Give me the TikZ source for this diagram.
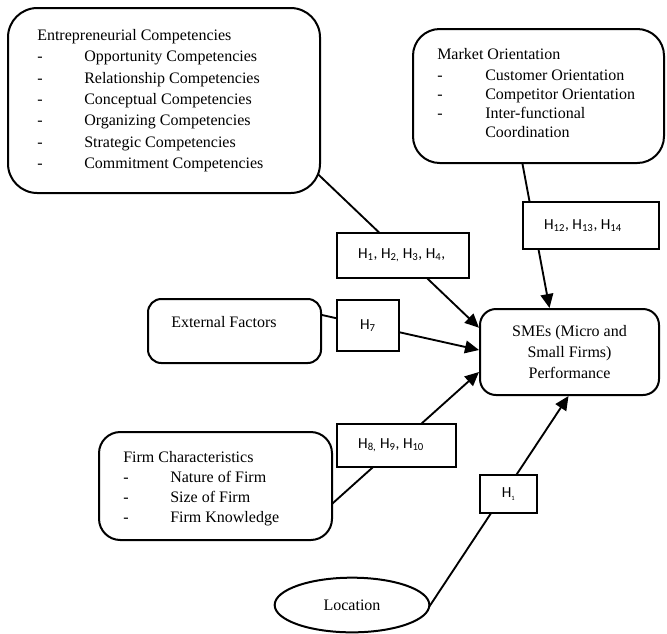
\documentclass[tikz,border=0pt]{standalone}
\usepackage{fontspec}
\setmainfont{Liberation Serif}
\newfontfamily\hfont{Carlito}
\usetikzlibrary{arrows.meta,fit,calc,shapes.geometric,backgrounds}
\newcommand\dashcol[1]{\makebox[#1][l]{-}}
\begin{document}
\begin{tikzpicture}[x=0.75pt,y=-0.75pt,
 box/.style={draw, line width=1.5pt, inner sep=0pt, fill=white},
 hbox/.style={draw, line width=1.5pt, inner sep=0pt, fill=white, font=\hfont\fontsize{11.5}{13}\selectfont},
 txt/.style={inner sep=0pt, align=left, anchor=north west, font=\fontsize{12}{16}\selectfont},
 conn/.style={line width=1.4pt, shorten <=-8pt},
 arr/.style={conn, -{Triangle[length=10.5pt,width=9.5pt]}}]
\useasboundingbox (0,0) rectangle (667,633);

% main boxes
\node[box, rounded corners=22pt, fit={(8,8)(320,193)}] (ec) {};
\node[txt] (ect) at (37,29) {Entrepreneurial Competencies\\
\dashcol{35.25pt}Opportunity Competencies\\
\dashcol{35.25pt}Relationship Competencies\\
\dashcol{35.25pt}Conceptual Competencies\\
\dashcol{35.25pt}Organizing Competencies\\
\dashcol{35.25pt}Strategic Competencies\\
\dashcol{35.25pt}Commitment Competencies};

\node[box, rounded corners=20pt, fit={(413,29)(664,163)}] (mo) {};
\node[txt, font=\fontsize{12}{14.2}\selectfont] (mot) at (437,48) {Market Orientation\\[2pt]
\dashcol{36pt}Customer Orientation\\
\dashcol{36pt}Competitor Orientation\\
\dashcol{36pt}Inter-functional\\
\hspace*{36pt}Coordination};

\node[box, rounded corners=12pt, minimum width=134.25pt, minimum height=64.5pt, align=center, font=\fontsize{12}{15.75}\selectfont] (sme) at (569.5,352) {SMEs (Micro and\\Small Firms)\\Performance};

\node[box, rounded corners=10pt, fit={(148,299)(321,363)}] (ef) {};
\node[txt, anchor=west] (eft) at (171,322) {External Factors};

\node[box, rounded corners=16pt, fit={(99,432)(332,540)}] (fc) {};
\node[txt, font=\fontsize{12}{15}\selectfont] (fct) at (123,451) {Firm Characteristics\\
\dashcol{35.25pt}Nature of Firm\\
\dashcol{35.25pt}Size of Firm\\
\dashcol{35.25pt}Firm Knowledge};

\node[draw, ellipse, line width=1.5pt, inner sep=0pt, minimum width=116pt, minimum height=41pt, fill=white, font=\fontsize{12}{14}\selectfont] (loc) at (352,605) {Location};

% hypothesis boxes
\node[hbox, minimum width=99pt, minimum height=33.75pt] (h14) at (403,255.5) {H\textsubscript{1}, H\textsubscript{2,} H\textsubscript{3}, H\textsubscript{4},\hspace*{2pt}};
\node[hbox, minimum width=46.5pt, minimum height=38.25pt] (h7) at (368,325.5) {\raisebox{2pt}{H\textsubscript{7}}};
\node[hbox, minimum width=102pt, minimum height=35.25pt] (h1214) at (591,225.5) {H\textsubscript{12}, H\textsubscript{13}, H\textsubscript{14}\hspace*{12pt}};
\node[hbox, minimum width=89.25pt, minimum height=32.25pt] (h810) at (396.5,445.5) {H\textsubscript{8,} H\textsubscript{9}, H\textsubscript{10}\hspace*{8pt}};
\node[hbox, minimum width=42.75pt, minimum height=28.5pt] (h1) at (508.5,494) {H\textsubscript{\scalebox{0.6}{1}}};

% connectors
\begin{scope}[on background layer]
\draw[arr] (ec.-26) -- (sme.165);
\draw[arr] ($(mo.south)+(-16,0)$) -- ($(sme.north)+(-20,0)$);
\draw[arr] ($(ef.east)+(0,-16)$) -- ($(sme.west)+(0,-2)$);
\draw[arr] ($(fc.east)+(0,17)$) -- ($(sme.west)+(0,20)$);
\draw[arr] (loc.east) -- ($(sme.south)+(-1,0)$);
\end{scope}
\end{tikzpicture}
\end{document}
